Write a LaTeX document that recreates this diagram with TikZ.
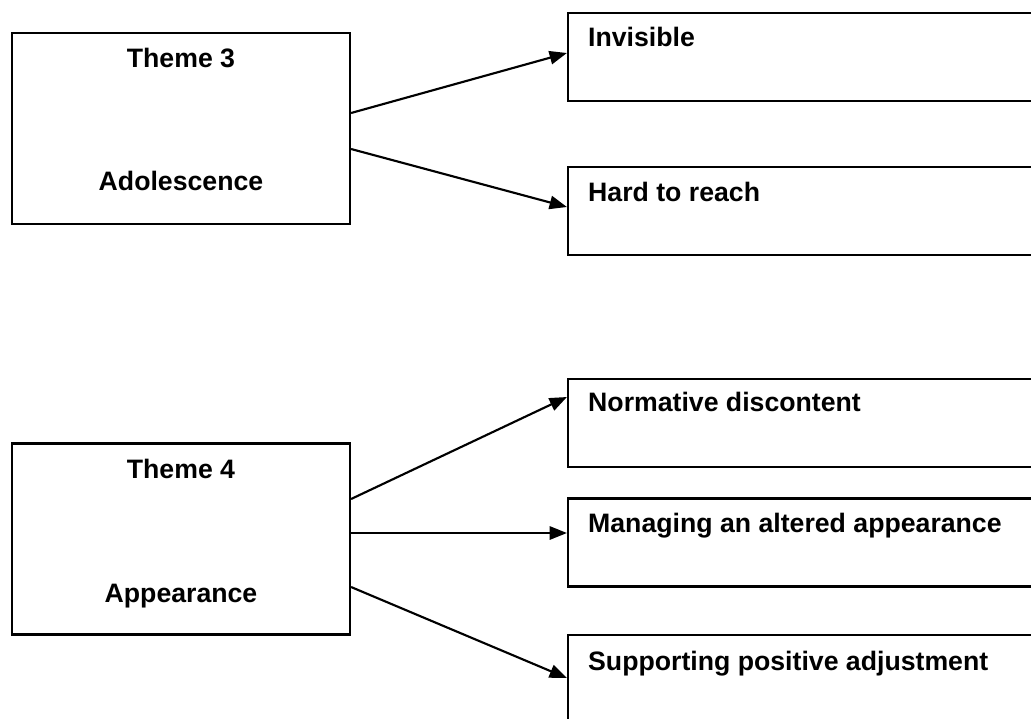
\documentclass[tikz,border=0pt]{standalone}
\usepackage{fontspec}
\setmainfont{Liberation Sans}
\usetikzlibrary{arrows.meta,calc}
\begin{document}
\begin{tikzpicture}[x=0.75pt,y=-0.75pt,
  box/.style={draw,line width=1.6pt,rectangle,inner sep=0pt},
  theme/.style={box,minimum width=338*0.75pt,minimum height=191*0.75pt},
  sub/.style={box,minimum width=532*0.75pt,minimum height=88*0.75pt},
  txt/.style={font=\bfseries\fontsize{20pt}{22pt}\selectfont,inner sep=0pt},
  link/.style={line width=1.6pt,-{Triangle[length=13pt,width=10pt]}}]
\useasboundingbox (0,0) rectangle (1031,718);
\clip (0,0) rectangle (1031,718);
\fill[white] (0,0) rectangle (1031,718);

% theme boxes
\node[theme] (t3) at (181,128.5) {};
\node[theme] (t4) at (181,539) {};
% sub-theme boxes (run past the right edge)
\node[sub] (inv) at (834,57) {};
\node[sub] (hard) at (834,211) {};
\node[sub] (norm) at (834,423) {};
\node[sub] (man) at (834,542.5) {};
\node[sub] (sup) at (834,679) {};

% labels
\node[txt,anchor=base] (t3a) at ($(t3.north)+(0,36)$) {Theme 3};
\node[txt,anchor=base] (t3b) at ($(t3.north)+(0,159)$) {Adolescence};
\node[txt,anchor=base] (t4a) at ($(t4.north)+(0,36)$) {Theme 4};
\node[txt,anchor=base] (t4b) at ($(t4.north)+(0,160)$) {Appearance};
\node[txt,anchor=base west] (l1) at ($(inv.north west)+(21,35)$) {Invisible};
\node[txt,anchor=base west] (l2) at ($(hard.north west)+(21,36)$) {Hard to reach};
\node[txt,anchor=base west] (l3) at ($(norm.north west)+(21,34)$) {Normative discontent};
\node[txt,anchor=base west] (l4) at ($(man.north west)+(21,35)$) {Managing an altered appearance};
\node[txt,anchor=base west] (l5) at ($(sup.north west)+(21,37)$) {Supporting positive adjustment};

% connectors
\draw[link] ($(t3.east)+(0,-15.5)$) -- ($(inv.west)+(0,-4)$);
\draw[link] ($(t3.east)+(0,20.5)$) -- ($(hard.west)+(0,-4)$);
\draw[link] ($(t4.east)+(0,-40)$) -- ($(norm.west)+(0,-26)$);
\draw[link] ($(t4.east)+(0,-6)$) -- ($(man.west)+(0,-9.5)$);
\draw[link] ($(t4.east)+(0,48)$) -- ($(sup.west)+(0,-1)$);
\end{tikzpicture}
\end{document}
